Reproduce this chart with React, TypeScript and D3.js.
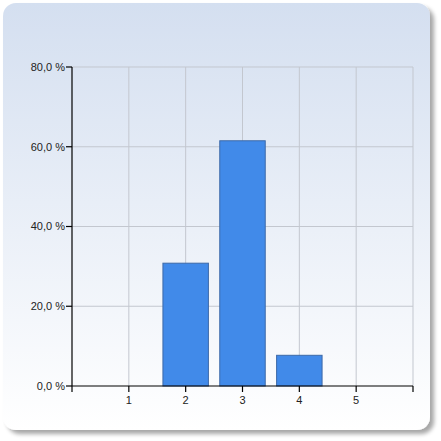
import * as d3 from "d3";

const categories = [1, 2, 3, 4, 5];
const percentages = [0, 30.8, 61.5, 7.7, 0];
const yTicks = [0, 20, 40, 60, 80];

const W = 441;
const H = 441;
const margin = { left: 72, right: 28, top: 67, bottom: 55 };

export default function App() {
  const x = d3.scaleLinear().domain([0, 6]).range([margin.left, W - margin.right]);
  const y = d3.scaleLinear().domain([0, 80]).range([H - margin.bottom, margin.top]);
  const fmt = (v: number) => d3.format(".1f")(v).replace(".", ",") + " %";
  const barW = x(0.8) - x(0);
  const font = "Arial, 'Liberation Sans', sans-serif";

  return (
    <svg
      width={W}
      height={H}
      style={{ position: "absolute", left: 0, top: 0, display: "block" }}
    >
      <defs>
        <linearGradient id="bg" x1="0" y1="0" x2="0" y2="1">
          <stop offset="0" stopColor="#d4dff0" />
          <stop offset="1" stopColor="#ffffff" />
        </linearGradient>
        <filter id="shadow" x="-5%" y="-5%" width="115%" height="115%">
          <feGaussianBlur in="SourceAlpha" stdDeviation="2" />
          <feOffset dx="4" dy="4" result="b" />
          <feComponentTransfer>
            <feFuncA type="linear" slope="0.35" />
          </feComponentTransfer>
          <feMerge>
            <feMergeNode />
            <feMergeNode in="SourceGraphic" />
          </feMerge>
        </filter>
      </defs>
      <rect x={3} y={3} width={427} height={427} rx={13} fill="url(#bg)" filter="url(#shadow)" />

      {/* grid */}
      {yTicks.slice(1).map((t) => (
        <line key={"h" + t} x1={x(0)} x2={x(6)} y1={y(t)} y2={y(t)} stroke="#c3c7cf" strokeWidth={1} />
      ))}
      {[1, 2, 3, 4, 5, 6].map((t) => (
        <line key={"v" + t} x1={x(t)} x2={x(t)} y1={y(0)} y2={y(80)} stroke="#c3c7cf" strokeWidth={1} />
      ))}

      {/* bars */}
      {categories.map((c, i) =>
        percentages[i] > 0 ? (
          <rect
            key={c}
            x={x(c) - barW / 2}
            y={y(percentages[i])}
            width={barW}
            height={y(0) - y(percentages[i])}
            fill="#418ae9"
            stroke="#3c69a8"
            strokeWidth={1}
          />
        ) : null
      )}

      {/* axes */}
      <line x1={x(0)} x2={x(0)} y1={y(0)} y2={y(80)} stroke="#000" strokeWidth={1.2} />
      <line x1={x(0)} x2={x(6)} y1={y(0)} y2={y(0)} stroke="#000" strokeWidth={1.2} />
      {yTicks.map((t) => (
        <g key={"yt" + t}>
          <line x1={x(0) - 6} x2={x(0)} y1={y(t)} y2={y(t)} stroke="#000" strokeWidth={1.2} />
          <text
            x={x(0) - 7}
            y={y(t)}
            dy="0.35em"
            textAnchor="end"
            fontFamily={font}
            fontSize={11}
            fill="#222"
          >
            {fmt(t)}
          </text>
        </g>
      ))}
      {[0, 1, 2, 3, 4, 5, 6].map((t) => (
        <line key={"xt" + t} x1={x(t)} x2={x(t)} y1={y(0)} y2={y(0) + 6} stroke="#000" strokeWidth={1.2} />
      ))}
      {categories.map((c) => (
        <text
          key={"xl" + c}
          x={x(c)}
          y={y(0) + 18}
          textAnchor="middle"
          fontFamily={font}
          fontSize={11}
          fill="#222"
        >
          {c}
        </text>
      ))}
    </svg>
  );
}
